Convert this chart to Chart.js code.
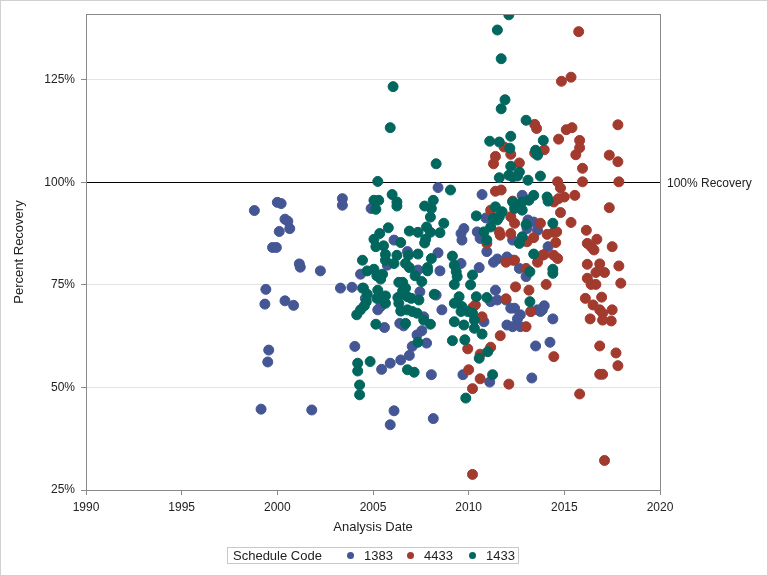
<!DOCTYPE html>
<html>
<head>
<meta charset="utf-8">
<script src="https://cdn.jsdelivr.net/npm/chart.js@4"></script>
<style>
  body { margin: 0; background: #fff; font-family: "Liberation Sans", Arial, sans-serif; }
  #wrap { position: relative; width: 768px; height: 576px; }
  #frame { position: absolute; left: 0; top: 0; width: 766px; height: 574px; border: 1px solid #d0d0d0; pointer-events: none; }
  #legend { position: absolute; left: 227px; top: 547px; width: 290px; height: 15px; border: 1px solid #c8c8c8;
            font-size: 13px; color: #222; line-height: 15px; }
  #legend span { position: absolute; top: 0; }
  #legend i { position: absolute; top: 4px; width: 7px; height: 7px; border-radius: 50%; }
</style>
</head>
<body>
<div id="wrap">
  <canvas id="chart" width="768" height="576"></canvas>
  <div id="legend"></div>
  <div id="frame"></div>
</div>
<script>
// ---------------- DATA ----------------

const seriesNames = ["1383", "4433", "1433"];
const seriesColors = ["#445694", "#A23A2E", "#01665E"];

const xTicks = [1990, 1995, 2000, 2005, 2010, 2015, 2020];
const yTicks = [25, 50, 75, 100, 125];
const refValue = 100;
const refLabel = "100% Recovery";

// schedule code 1383
const years1383 = [
  1998.8, 2000.0, 2000.2, 2000.4, 2000.55, 2000.65, 2000.1, 1999.75, 1999.95, 2001.15,
  2001.2, 2002.25, 1999.4, 1999.35, 2000.4, 2000.85, 1999.55, 1999.5, 1999.15, 2001.8,
  2003.3, 2003.4, 2003.4, 2004.9, 2008.4, 2006.1, 2006.8, 2008.4, 2004.35, 2003.9,
  2004.45, 2005.75, 2007.35, 2008.5, 2007.45, 2008.3, 2004.6, 2005.25, 2005.4, 2008.6,
  2007.65, 2006.4, 2006.6, 2005.6, 2007.55, 2007.3, 2007.8, 2007.05, 2006.9, 2004.05,
  2006.45, 2005.9, 2005.45, 2008.05, 2006.1, 2005.9, 2008.15, 2010.7, 2012.8, 2010.9,
  2013.1, 2013.4, 2013.6, 2013.05, 2009.75, 2009.6, 2009.65, 2010.45, 2010.6, 2012.3,
  2012.7, 2010.95, 2011.5, 2011.3, 2012.0, 2012.3, 2009.6, 2010.55, 2012.65, 2013.0,
  2011.4, 2011.15, 2011.5, 2011.95, 2012.2, 2012.4, 2012.7, 2012.55, 2013.6, 2013.75,
  2013.25, 2010.8, 2012.0, 2012.3, 2012.7, 2013.5, 2009.7, 2011.1, 2013.3, 2014.15,
  2013.95, 2013.85, 2014.4, 2014.25
];
const pct1383 = [
  93.1, 95.1, 94.8, 91.0, 90.5, 88.7, 88.0, 84.1, 84.1, 80.1,
  79.3, 78.4, 73.9, 70.3, 71.1, 70.0, 59.1, 56.2, 44.7, 44.5,
  74.2, 96.0, 94.4, 93.6, 98.7, 85.9, 83.1, 82.8, 77.6, 74.4,
  74.2, 79.8, 78.6, 78.4, 73.3, 72.5, 71.7, 68.9, 69.7, 68.9,
  67.2, 65.6, 65.0, 64.6, 63.8, 62.8, 60.8, 60.0, 57.8, 60.0,
  56.7, 55.9, 54.4, 53.1, 44.3, 40.9, 42.4, 97.0, 96.8, 91.3,
  90.8, 90.3, 88.3, 88.7, 88.7, 87.5, 85.9, 87.9, 86.3, 85.9,
  85.5, 83.1, 81.3, 80.5, 81.8, 81.0, 80.2, 79.2, 79.0, 77.0,
  73.7, 70.9, 71.3, 71.3, 69.3, 69.3, 67.7, 66.7, 68.9, 68.5,
  68.5, 66.0, 65.2, 64.8, 64.8, 60.1, 53.1, 51.3, 52.3, 84.3,
  69.9, 68.9, 66.7, 61.0
];

// schedule code 4433
const years4433 = [
  2013.45, 2013.55, 2011.85, 2012.2, 2011.4, 2011.3, 2012.65, 2013.45, 2013.95, 2011.4,
  2011.7, 2012.3, 2011.15, 2012.2, 2012.4, 2011.6, 2011.65, 2012.2, 2013.75, 2013.4,
  2013.05, 2013.85, 2013.6, 2010.95, 2011.95, 2012.4, 2013.0, 2012.45, 2013.15, 2014.05,
  2011.95, 2010.35, 2010.2, 2010.7, 2013.25, 2013.0, 2011.65, 2009.95, 2011.15, 2010.6,
  2010.0, 2010.6, 2012.1, 2010.2, 2010.2, 2015.75, 2014.85, 2015.35, 2017.8, 2015.1,
  2015.4, 2014.7, 2015.8, 2015.8, 2015.6, 2017.35, 2017.8, 2015.95, 2014.65, 2015.95,
  2017.85, 2014.8, 2015.0, 2014.7, 2014.45, 2015.55, 2017.35, 2014.8, 2015.35, 2016.15,
  2016.7, 2014.1, 2014.45, 2014.6, 2014.55, 2016.2, 2016.4, 2016.55, 2017.5, 2013.95,
  2014.45, 2014.65, 2016.2, 2016.85, 2017.85, 2016.65, 2017.1, 2016.2, 2016.4, 2016.65,
  2017.95, 2016.1, 2016.95, 2016.5, 2016.85, 2017.0, 2017.5, 2016.35, 2017.0, 2017.45,
  2014.45, 2016.85, 2017.7, 2017.8, 2016.85, 2017.0, 2015.8, 2017.1
];
const pct4433 = [
  114.1, 113.1, 108.6, 106.8, 106.3, 104.5, 104.7, 107.1, 107.9, 97.8,
  98.1, 95.4, 93.2, 91.6, 90.0, 87.9, 87.1, 87.5, 90.0, 86.5,
  85.5, 82.2, 80.5, 85.1, 80.5, 81.0, 79.0, 74.5, 73.7, 75.1,
  71.6, 70.1, 69.4, 67.2, 68.5, 64.8, 62.6, 59.4, 59.8, 58.1,
  54.3, 52.1, 50.8, 49.7, 28.8, 136.7, 124.6, 125.6, 114.0, 112.8,
  113.3, 110.5, 110.2, 108.4, 106.7, 106.6, 105.0, 103.4, 100.1, 100.1,
  100.1, 98.6, 96.4, 96.0, 95.2, 96.8, 93.8, 92.6, 90.2, 88.3,
  86.1, 87.3, 87.8, 87.9, 85.3, 85.1, 84.3, 83.5, 84.3, 82.4,
  82.2, 81.4, 80.0, 80.1, 79.6, 78.0, 78.0, 76.6, 75.1, 75.1,
  75.4, 71.7, 72.0, 70.1, 68.9, 68.1, 68.9, 66.7, 66.4, 66.2,
  57.5, 60.1, 58.4, 55.3, 53.2, 53.2, 48.4, 32.2
];

// schedule code 1433
const years1433 = [
  2006.05, 2005.9, 2008.3, 2005.25, 2005.05, 2005.3, 2005.15, 2006.0, 2006.25, 2006.25,
  2007.7, 2008.05, 2008.15, 2008.0, 2008.7, 2005.8, 2005.35, 2006.9, 2007.35, 2007.8,
  2008.0, 2008.5, 2005.05, 2005.15, 2005.55, 2006.45, 2007.7, 2007.75, 2004.45, 2005.65,
  2005.65, 2006.25, 2006.85, 2007.35, 2008.05, 2006.1, 2006.7, 2006.9, 2007.85, 2007.85,
  2004.7, 2005.05, 2005.2, 2005.5, 2005.4, 2007.2, 2007.55, 2006.35, 2006.55, 2006.7,
  2006.55, 2004.5, 2004.7, 2005.25, 2005.2, 2005.65, 2005.65, 2006.3, 2006.35, 2006.8,
  2007.0, 2007.4, 2008.2, 2004.65, 2004.55, 2004.35, 2004.15, 2006.45, 2006.8, 2007.05,
  2007.3, 2007.65, 2008.0, 2005.15, 2006.7, 2007.35, 2004.2, 2004.2, 2004.85, 2006.8,
  2007.15, 2004.3, 2004.3, 2012.1, 2011.5, 2011.7, 2011.9, 2011.7, 2013.0, 2011.1,
  2011.6, 2012.2, 2012.15, 2013.9, 2013.5, 2013.6, 2012.2, 2012.65, 2012.1, 2012.3,
  2011.6, 2012.55, 2013.1, 2013.75, 2009.05, 2012.3, 2012.55, 2012.8, 2013.15, 2013.4,
  2012.4, 2012.8, 2011.4, 2011.75, 2011.6, 2011.3, 2011.15, 2011.5, 2010.4, 2013.0,
  2012.8, 2012.65, 2010.8, 2010.95, 2013.4, 2009.15, 2009.25, 2009.35, 2009.4, 2009.25,
  2010.2, 2010.1, 2013.2, 2009.5, 2009.25, 2009.65, 2009.6, 2009.95, 2010.2, 2010.3,
  2009.25, 2009.75, 2010.4, 2010.95, 2013.2, 2010.3, 2009.15, 2009.8, 2010.7, 2011.0,
  2010.55, 2011.25, 2009.85, 2014.1, 2014.15, 2014.4, 2014.4, 2014.4
];
const pct1433 = [
  123.3, 113.3, 104.5, 100.2, 95.6, 95.6, 93.4, 97.0, 95.2, 94.2,
  94.2, 93.6, 95.6, 91.5, 90.0, 88.9, 87.5, 88.1, 87.8, 89.1,
  87.8, 87.7, 86.1, 84.3, 84.5, 85.3, 85.2, 86.1, 81.0, 82.4,
  81.0, 82.2, 82.2, 82.5, 81.4, 80.2, 80.2, 79.2, 79.2, 78.4,
  78.4, 78.8, 77.2, 77.6, 76.4, 77.2, 75.8, 75.6, 75.6, 74.2,
  73.5, 74.2, 72.7, 73.7, 71.7, 72.3, 70.5, 71.9, 70.5, 72.1,
  71.7, 71.3, 72.7, 70.9, 69.9, 68.9, 67.7, 68.6, 68.9, 68.5,
  68.1, 66.4, 65.4, 65.4, 65.6, 61.0, 55.9, 54.0, 56.3, 54.3,
  53.7, 50.6, 48.2, 140.8, 137.1, 130.1, 120.1, 117.9, 115.1, 110.0,
  109.8, 111.2, 108.3, 110.2, 107.8, 106.6, 103.9, 102.5, 101.7, 101.3,
  101.1, 101.5, 100.5, 101.5, 98.1, 95.2, 94.4, 95.2, 95.6, 96.8,
  93.6, 93.2, 94.0, 92.8, 91.6, 91.2, 89.1, 90.8, 91.8, 89.7,
  86.7, 85.1, 87.9, 85.9, 82.5, 82.0, 79.8, 78.2, 77.0, 75.1,
  77.4, 75.0, 78.2, 72.1, 70.5, 69.7, 68.5, 68.5, 68.1, 66.4,
  66.0, 65.2, 72.1, 71.9, 70.9, 64.4, 61.4, 61.6, 63.0, 58.7,
  57.1, 53.1, 47.4, 96.4, 95.4, 90.0, 78.8, 77.8
];

const seriesYears = [years1383, years4433, years1433];
const seriesPct = [pct1383, pct4433, pct1433];

// ---------------- CHART ----------------

const font = "'Liberation Sans', Arial, sans-serif";
const axisColor = "#8a8a8a";

function toPoints(xs, ys) {
    return xs.map((x, i) => ({ x: x, y: ys[i] }));
}

const datasets = seriesNames.map((name, i) => ({
    label: name,
    data: toPoints(seriesYears[i], seriesPct[i]),
    backgroundColor: seriesColors[i],
    borderColor: seriesColors[i],
    borderWidth: 1,
    pointRadius: 5,
    order: 3 - i
}));

// plot frame, reference line and its label
const framePlugin = {
    id: "frame",
    beforeDatasetsDraw(chart) {
        const { ctx, chartArea: a, scales } = chart;
        const y = Math.round(scales.y.getPixelForValue(refValue)) + 0.5;
        ctx.save();
        ctx.strokeStyle = "#000";
        ctx.lineWidth = 1;
        ctx.beginPath();
        ctx.moveTo(a.left, y);
        ctx.lineTo(a.right, y);
        ctx.stroke();
        ctx.restore();
    },
    afterDraw(chart) {
        const { ctx, chartArea: a, scales } = chart;
        ctx.save();
        ctx.strokeStyle = axisColor;
        ctx.lineWidth = 1;
        ctx.strokeRect(a.left + 0.5, a.top + 0.5, a.right - a.left, a.bottom - a.top);
        ctx.fillStyle = "#222";
        ctx.font = "12px " + font;
        ctx.textBaseline = "middle";
        ctx.fillText(refLabel, a.right + 7, scales.y.getPixelForValue(refValue) + 1);
        ctx.restore();
    }
};

new Chart(document.getElementById("chart"), {
    type: "scatter",
    data: { datasets: datasets },
    options: {
        responsive: false,
        animation: false,
        devicePixelRatio: 1,
        layout: { padding: { left: 0, right: 108, top: 14, bottom: 37 } },
        plugins: { legend: { display: false }, tooltip: { enabled: false } },
        scales: {
            x: {
                type: "linear",
                min: xTicks[0],
                max: xTicks[xTicks.length - 1],
                afterBuildTicks: s => { s.ticks = xTicks.map(v => ({ value: v })); },
                afterFit: s => { s.height = 49; },
                ticks: { color: "#222", font: { family: font, size: 12 }, padding: 5, maxRotation: 0,
                         callback: v => String(v) },
                grid: { drawOnChartArea: false, tickLength: 5, color: axisColor },
                border: { color: axisColor },
                title: { display: true, text: "Analysis Date", color: "#222",
                         font: { family: font, size: 13 }, padding: { top: 4, bottom: 4 } }
            },
            y: {
                min: 25,
                max: 141,
                afterBuildTicks: s => { s.ticks = yTicks.map(v => ({ value: v })); },
                afterFit: s => { s.width = 86; },
                ticks: { color: "#222", font: { family: font, size: 12 }, padding: 6,
                         callback: v => v + "%" },
                grid: { color: "#e3e3e3", tickColor: axisColor, tickLength: 5 },
                border: { color: axisColor },
                title: { display: true, text: "Percent Recovery", color: "#222",
                         font: { family: font, size: 13 }, padding: { top: 12, bottom: 0 } }
            }
        }
    },
    plugins: [framePlugin]
});

// ---------------- LEGEND ----------------

const legend = document.getElementById("legend");
legend.innerHTML = '<span style="left:5px">Schedule Code</span>';
const markerLeft = [119, 179, 241];
seriesNames.forEach((name, i) => {
    legend.innerHTML += `<i style="left:${markerLeft[i]}px;background:${seriesColors[i]}"></i>` +
                        `<span style="left:${markerLeft[i] + 17}px">${name}</span>`;
});
</script>
</body>
</html>
